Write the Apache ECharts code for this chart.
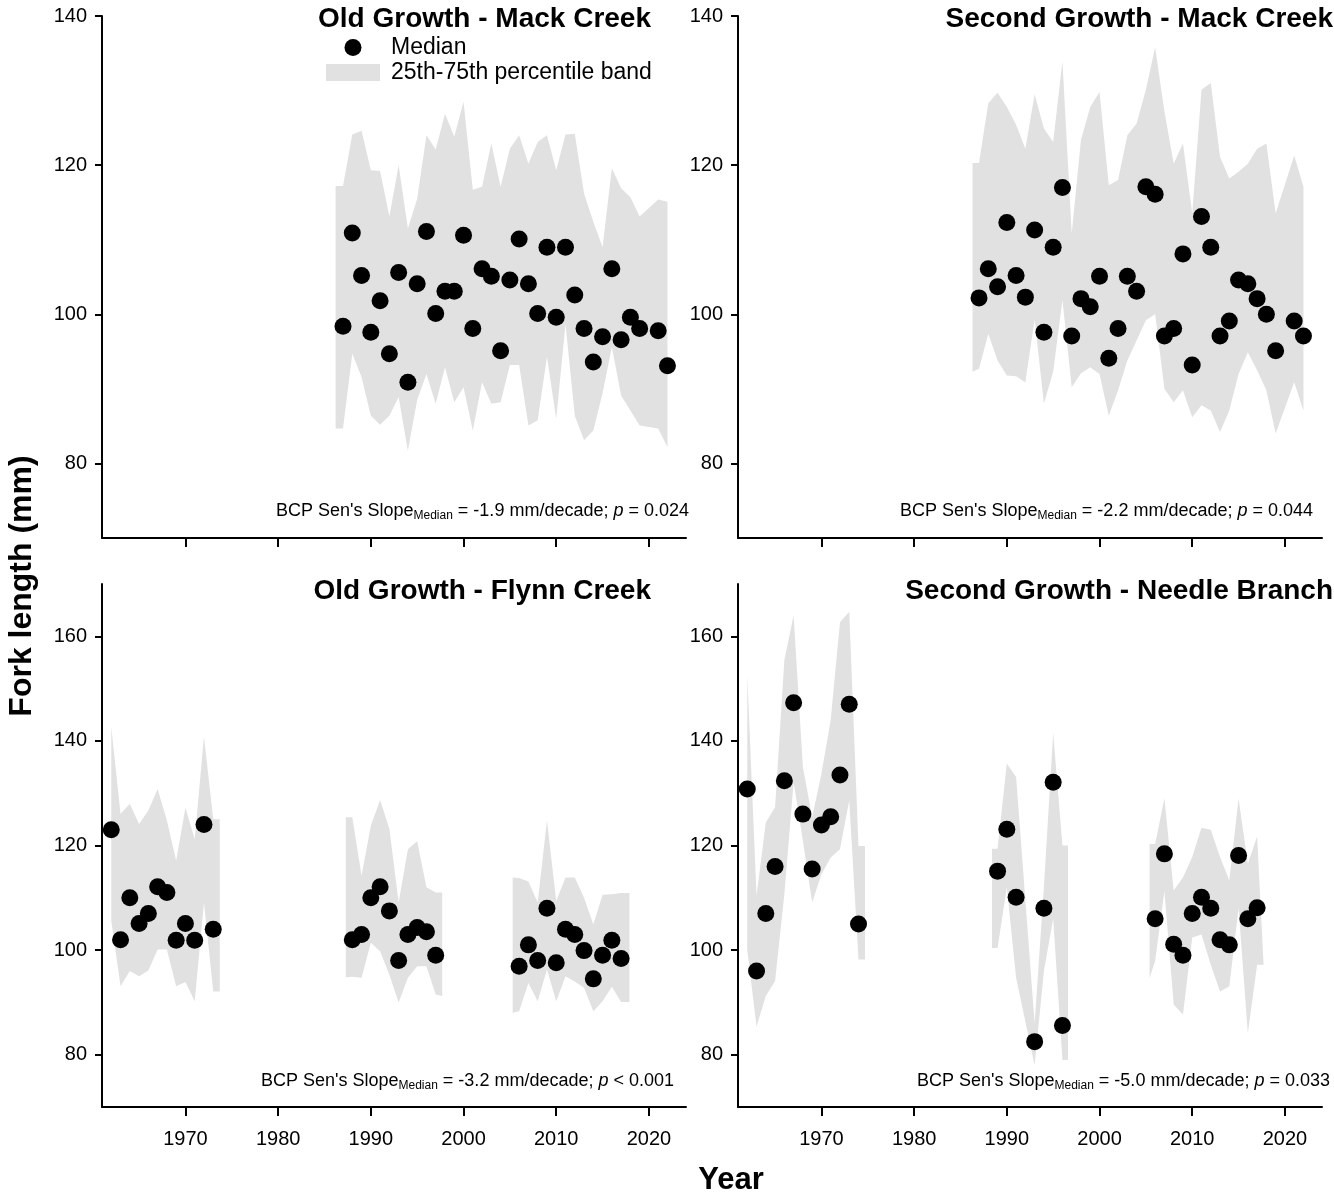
<!DOCTYPE html>
<html>
<head>
<meta charset="utf-8">
<title>Fork length over time</title>
<script src="https://cdn.jsdelivr.net/npm/echarts@6/dist/echarts.min.js"></script>
<style>
  html, body { margin: 0; padding: 0; background: #ffffff; }
  #chart { width: 1334px; height: 1195px; }
</style>
</head>
<body>
<div id="chart"></div>
<script>
// ---------- tick labels ----------
const xTickYears = [1970, 1980, 1990, 2000, 2010, 2020];
const yTicksTop = [80, 100, 120, 140];
const yTicksBottom = [80, 100, 120, 140, 160];

// ---------- panel text ----------
const panelTitles = ['Old Growth - Mack Creek', 'Second Growth - Mack Creek',
                     'Old Growth - Flynn Creek', 'Second Growth - Needle Branch'];
const slopeValues = ['-1.9', '-2.2', '-3.2', '-5.0'];
const pValues = ['= 0.024', '= 0.044', '< 0.001', '= 0.033'];

// ---------- Old Growth - Mack Creek ----------
const ogMackYears = [1987, 1988, 1989, 1990, 1991, 1992, 1993, 1994, 1995, 1996, 1997, 1998, 1999,
  2000, 2001, 2002, 2003, 2004, 2005, 2006, 2007, 2008, 2009, 2010, 2011, 2012, 2013, 2014,
  2015, 2016, 2017, 2018, 2019, 2021, 2022];
const ogMackMedian = [98.4, 110.9, 105.2, 97.6, 101.8, 94.7, 105.6, 90.9, 104.1, 111.1, 100.1, 103.1, 103.1,
  110.6, 98.1, 106.1, 105.1, 95.1, 104.6, 110.1, 104.1, 100.1, 109.0, 99.6, 109.0, 102.6, 98.1, 93.6,
  97.0, 106.1, 96.6, 99.6, 98.1, 97.8, 93.1];
const ogMackBandYears = [1986.2, 1987, 1988, 1989, 1990, 1991, 1992, 1993, 1994, 1995, 1996, 1997, 1998, 1999,
  2000, 2001, 2002, 2003, 2004, 2005, 2006, 2007, 2008, 2009, 2010, 2011, 2012, 2013, 2014,
  2015, 2016, 2017, 2018, 2019, 2021, 2022];
const ogMackBandHigh = [117.2, 117.2, 124.1, 124.6, 119.3, 119.2, 113.1, 120.0, 111.5, 115.5, 124.0, 122.1, 126.9, 123.8,
  128.5, 116.7, 117.1, 122.9, 117.1, 122.2, 124.0, 120.2, 123.1, 124.0, 119.3, 124.1, 124.2, 116.2, 112.4,
  109.0, 119.6, 116.9, 115.7, 113.1, 115.4, 115.1];
const ogMackBandLow = [84.7, 84.7, 94.7, 91.6, 86.4, 85.2, 86.4, 88.9, 81.7, 88.5, 92.0, 88.0, 92.9, 88.2,
  90.2, 84.4, 90.9, 88.0, 88.2, 93.2, 93.2, 85.1, 85.8, 94.3, 86.0, 98.7, 86.4, 83.1, 84.4,
  89.4, 95.6, 89.1, 87.1, 85.1, 84.7, 82.2];

// ---------- Second Growth - Mack Creek ----------
const sgMackYears = [1987, 1988, 1989, 1990, 1991, 1992, 1993, 1994, 1995, 1996, 1997, 1998, 1999,
  2000, 2001, 2002, 2003, 2004, 2005, 2006, 2007, 2008, 2009, 2010, 2011, 2012, 2013, 2014,
  2015, 2016, 2017, 2018, 2019, 2021, 2022];
const sgMackMedian = [102.2, 106.1, 103.7, 112.3, 105.2, 102.3, 111.3, 97.6, 109.0, 117.0, 97.1, 102.1, 101.0,
  105.1, 94.1, 98.1, 105.1, 103.1, 117.1, 116.1, 97.1, 98.1, 108.1, 93.2, 113.1, 109.0, 97.1, 99.1,
  104.6, 104.1, 102.1, 100.0, 95.1, 99.1, 97.1];
const sgMackBandYears = [1986.3, 1987, 1988, 1989, 1990, 1991, 1992, 1993, 1994, 1995, 1996, 1997, 1998, 1999,
  2000, 2001, 2002, 2003, 2004, 2005, 2006, 2007, 2008, 2009, 2010, 2011, 2012, 2013, 2014,
  2015, 2016, 2017, 2018, 2019, 2021, 2022];
const sgMackBandHigh = [120.3, 120.3, 128.3, 129.7, 127.8, 125.4, 122.2, 129.5, 124.9, 123.1, 133.9, 110.8, 123.4, 127.8,
  129.8, 117.3, 118.0, 124.0, 125.6, 130.1, 135.8, 127.2, 120.2, 122.9, 113.5, 130.1, 131.0, 121.1, 118.2,
  119.1, 120.2, 122.2, 122.9, 113.5, 121.3, 117.1];
const sgMackBandLow = [92.3, 92.7, 97.4, 93.8, 91.8, 91.7, 90.9, 99.3, 88.0, 92.3, 101.9, 90.2, 92.1, 92.9,
  92.0, 86.4, 89.8, 93.8, 96.5, 99.2, 100.0, 90.0, 88.2, 89.8, 86.2, 87.8, 87.1, 84.2, 87.1,
  92.0, 94.9, 92.5, 89.8, 84.0, 90.9, 87.1];

// ---------- Old Growth - Flynn Creek ----------
const ogFlynnYears = [1962, 1963, 1964, 1965, 1966, 1967, 1968, 1969, 1970, 1971, 1972, 1973,
  1988, 1989, 1990, 1991, 1992, 1993, 1994, 1995, 1996, 1997,
  2006, 2007, 2008, 2009, 2010, 2011, 2012, 2013, 2014, 2015, 2016, 2017];
const ogFlynnMedian = [123.0, 102.0, 110.0, 105.1, 107.0, 112.1, 111.0, 101.9, 105.1, 101.9, 124.0, 104.0,
  102.0, 103.0, 110.0, 112.1, 107.5, 98.0, 103.0, 104.3, 103.5, 99.0,
  96.9, 101.0, 98.0, 108.0, 97.6, 104.0, 103.0, 99.9, 94.5, 99.0, 101.9, 98.4];
const ogFlynnBandYears = [1962, 1963, 1964, 1965, 1966, 1967, 1968, 1969, 1970, 1971, 1972, 1973, 1973.7, null,
  1987.3, 1988, 1989, 1990, 1991, 1992, 1993, 1994, 1995, 1996, 1997, 1997.7, null,
  2005.3, 2006, 2007, 2008, 2009, 2010, 2011, 2012, 2013, 2014, 2015, 2016, 2017, 2017.9];
const ogFlynnBandHigh = [142.7, 126.0, 128.0, 124.1, 126.7, 130.8, 124.8, 117.1, 127.2, 121.2, 140.8, 125.0, 125.0, null,
  125.4, 125.4, 114.2, 123.8, 128.7, 123.2, 109.1, 119.3, 120.8, 112.0, 111.0, 111.0, null,
  113.9, 113.8, 113.1, 109.1, 124.8, 109.4, 113.9, 113.9, 110.0, 104.9, 110.6, 110.7, 110.9, 110.9];
const ogFlynnBandLow = [105.6, 93.1, 96.0, 95.0, 96.1, 100.1, 100.1, 93.1, 93.9, 90.2, 109.1, 92.1, 92.1, null,
  94.8, 94.9, 94.7, 101.4, 99.8, 95.3, 90.0, 94.7, 96.9, 96.9, 91.5, 91.2, null,
  88.0, 88.3, 93.7, 90.2, 96.3, 90.2, 95.0, 94.0, 92.8, 88.3, 90.2, 93.0, 90.1, 90.1];

// ---------- Second Growth - Needle Branch ----------
const sgNeedleYears = [1962, 1963, 1964, 1965, 1966, 1967, 1968, 1969, 1970, 1971, 1972, 1973, 1974,
  1989, 1990, 1991, 1993, 1994, 1995, 1996,
  2006, 2007, 2008, 2009, 2010, 2011, 2012, 2013, 2014, 2015, 2016, 2017];
const sgNeedleMedian = [130.8, 96.0, 107.0, 116.0, 132.4, 147.3, 126.0, 115.5, 123.9, 125.5, 133.5, 147.0, 105.0,
  115.1, 123.1, 110.1, 82.5, 108.0, 132.1, 85.6,
  106.0, 118.4, 101.1, 99.0, 107.0, 110.1, 108.0, 102.0, 101.0, 118.1, 106.0, 108.1];
const sgNeedleBandYears = [1962, 1963, 1964, 1965, 1966, 1967, 1968, 1969, 1970, 1971, 1972, 1973, 1974, 1974.7, null,
  1988.4, 1989, 1990, 1991, 1993, 1994, 1995, 1996, 1996.6, null,
  2005.4, 2006, 2007, 2008, 2009, 2010, 2011, 2012, 2013, 2014, 2015, 2016, 2017, 2017.7];
const sgNeedleBandHigh = [152.5, 110.4, 124.4, 127.3, 155.4, 164.0, 135.0, 125.4, 133.7, 144.0, 162.7, 164.7, 119.9, 119.9, null,
  119.4, 119.4, 135.7, 133.1, 86.0, 112.0, 141.5, 120.0, 120.0, null,
  120.3, 120.3, 129.0, 111.4, 113.9, 117.8, 123.4, 123.0, 117.8, 113.3, 129.0, 116.5, 121.7, 97.2];
const sgNeedleBandLow = [100.0, 85.4, 91.2, 94.1, 110.7, 132.1, 120.9, 109.1, 114.5, 117.7, 119.3, 128.6, 98.2, 98.2, null,
  100.4, 100.4, 112.0, 94.7, 78.0, 96.0, 106.0, 79.0, 79.0, null,
  94.7, 97.9, 111.3, 89.6, 87.7, 102.4, 103.0, 97.2, 92.1, 93.1, 108.0, 84.1, 97.2, 97.2];

// ---------- styling & layout ----------
const FONT = "'Liberation Sans', Arial, Helvetica, sans-serif";
const BAND_COLOR = '#e1e1e1';
const BAND_NAME = '25th-75th percentile band';
const MEDIAN_NAME = 'Median';

const panels = [
  { years: ogMackYears, median: ogMackMedian, bandYears: ogMackBandYears, bandLow: ogMackBandLow, bandHigh: ogMackBandHigh,
    grid: { left: 102, top: 16, width: 584, height: 522 }, yMax: 140, yTicks: yTicksTop, xLabels: false,
    titlePos: [651, 19], notePos: [689, 511] },
  { years: sgMackYears, median: sgMackMedian, bandYears: sgMackBandYears, bandLow: sgMackBandLow, bandHigh: sgMackBandHigh,
    grid: { left: 738, top: 16, width: 584, height: 522 }, yMax: 140, yTicks: yTicksTop, xLabels: false,
    titlePos: [1333, 19], notePos: [1313, 511] },
  { years: ogFlynnYears, median: ogFlynnMedian, bandYears: ogFlynnBandYears, bandLow: ogFlynnBandLow, bandHigh: ogFlynnBandHigh,
    grid: { left: 102, top: 584, width: 584, height: 523 }, yMax: 170, yTicks: yTicksBottom, xLabels: true,
    titlePos: [651, 591], notePos: [674, 1081] },
  { years: sgNeedleYears, median: sgNeedleMedian, bandYears: sgNeedleBandYears, bandLow: sgNeedleBandLow, bandHigh: sgNeedleBandHigh,
    grid: { left: 738, top: 584, width: 584, height: 523 }, yMax: 170, yTicks: yTicksBottom, xLabels: true,
    titlePos: [1333, 591], notePos: [1330, 1081] }
];

// split a band (null-separated) into contiguous runs of [year, low, high]
function bandGroups(years, low, high) {
  const groups = [];
  let cur = [];
  years.forEach((yr, i) => {
    if (yr === null) {
      if (cur.length) groups.push(cur);
      cur = [];
    } else {
      cur.push([yr, low[i], high[i]]);
    }
  });
  if (cur.length) groups.push(cur);
  return groups;
}

const axisLineStyle = { color: '#000', width: 2 };

const option = {
  animation: false,
  backgroundColor: '#ffffff',
  textStyle: { fontFamily: FONT },
  grid: panels.map(p => Object.assign({ containLabel: false }, p.grid)),
  xAxis: panels.map((p, i) => ({
    type: 'value', gridIndex: i, min: 1961, max: 2024,
    axisLine: { show: true, onZero: false, lineStyle: axisLineStyle },
    axisTick: { show: true, inside: false, length: 9, customValues: xTickYears, lineStyle: axisLineStyle },
    axisLabel: { show: p.xLabels, customValues: xTickYears, formatter: v => String(v),
                 color: '#000', fontSize: 20, margin: 22, fontFamily: FONT },
    splitLine: { show: false }
  })),
  yAxis: panels.map((p, i) => ({
    type: 'value', gridIndex: i, min: 70, max: p.yMax,
    axisLine: { show: true, onZero: false, lineStyle: axisLineStyle },
    axisTick: { show: true, inside: false, length: 7, customValues: p.yTicks, lineStyle: axisLineStyle },
    axisLabel: { show: true, customValues: p.yTicks, formatter: v => String(v),
                 color: '#000', fontSize: 20, margin: 15, fontFamily: FONT },
    splitLine: { show: false }
  })),
  legend: {
    orient: 'vertical', left: 326, top: 36, padding: 0,
    itemWidth: 54, itemHeight: 17, itemGap: 2, selectedMode: false,
    data: [{ name: MEDIAN_NAME, icon: 'circle' }, { name: BAND_NAME, icon: 'rect' }],
    textStyle: { color: '#000', fontSize: 23, fontFamily: FONT, padding: [0, 0, 0, 6] }
  },
  series: [],
  graphic: []
};

panels.forEach((p, i) => {
  const groups = bandGroups(p.bandYears, p.bandLow, p.bandHigh);
  option.series.push({
    type: 'custom', name: BAND_NAME, xAxisIndex: i, yAxisIndex: i, silent: true, z: 1,
    itemStyle: { color: BAND_COLOR },
    data: groups.map(g => [g[0][0], g[0][2]]),
    encode: { x: 0, y: 1 },
    renderItem: (params, api) => {
      const g = groups[params.dataIndex];
      const upper = g.map(d => api.coord([d[0], d[2]]));
      const lower = g.map(d => api.coord([d[0], d[1]])).reverse();
      return { type: 'polygon', shape: { points: upper.concat(lower) }, style: { fill: BAND_COLOR } };
    }
  });
  option.series.push({
    type: 'scatter', name: MEDIAN_NAME, xAxisIndex: i, yAxisIndex: i, z: 3, silent: true,
    symbol: 'circle', symbolSize: 17,
    itemStyle: { color: '#000', opacity: 1 },
    data: p.years.map((yr, k) => [yr, p.median[k]])
  });
  option.graphic.push({
    type: 'text', x: p.titlePos[0], y: p.titlePos[1], silent: true,
    style: { text: panelTitles[i], fill: '#000', font: 'bold 28px ' + FONT, align: 'right', verticalAlign: 'middle' }
  });
  option.graphic.push({
    type: 'text', x: p.notePos[0], y: p.notePos[1], silent: true,
    style: {
      text: '{n|BCP Sen\'s Slope}{s|Median}{n| = ' + slopeValues[i] + ' mm/decade; }{i|p}{n| ' + pValues[i] + '}',
      align: 'right', verticalAlign: 'middle', fill: '#000',
      rich: {
        n: { fontSize: 18, fontFamily: FONT, lineHeight: 22, fill: '#000' },
        i: { fontSize: 18, fontFamily: FONT, fontStyle: 'italic', lineHeight: 22, fill: '#000' },
        s: { fontSize: 12, fontFamily: FONT, lineHeight: 9, verticalAlign: 'bottom', fill: '#000' }
      }
    }
  });
});

// shared axis titles
option.graphic.push({
  type: 'text', x: 22, y: 586, rotation: Math.PI / 2, silent: true,
  style: { text: 'Fork length (mm)', fill: '#000', font: 'bold 32px ' + FONT, align: 'center', verticalAlign: 'middle' }
});
option.graphic.push({
  type: 'text', x: 731, y: 1180, silent: true,
  style: { text: 'Year', fill: '#000', font: 'bold 31px ' + FONT, align: 'center', verticalAlign: 'middle' }
});

const chart = echarts.init(document.getElementById('chart'), null, { renderer: 'canvas' });
chart.setOption(option);
</script>
</body>
</html>
